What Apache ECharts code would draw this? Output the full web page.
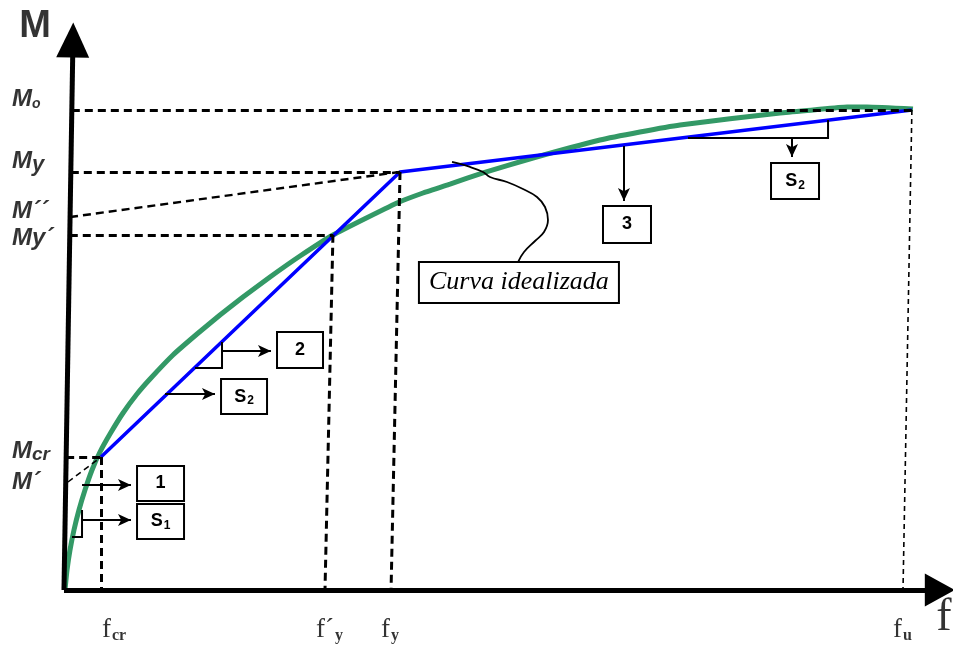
<!DOCTYPE html>
<html>
<head>
<meta charset="utf-8">
<script src="https://cdn.jsdelivr.net/npm/echarts@6/dist/echarts.min.js"></script>
<style>
  html, body { margin: 0; padding: 0; background: #fff; }
  #chart { width: 953px; height: 648px; }
</style>
</head>
<body>
<div id="chart"></div>
<script>
// curva momento-curvatura real (verde) e idealizada (azul), eixos em unidades relativas
const curvaReal = [
  [0, 0], [0.24, 4.17], [0.59, 8.33], [1.06, 12.5], [1.65, 16.67], [2.36, 20.83], [3.19, 25.0],
  [4.13, 28.75], [5.31, 32.5], [6.85, 36.88], [8.5, 40.83], [10.04, 43.96], [12.75, 48.96],
  [15.59, 53.33], [18.3, 57.29], [21.02, 61.04], [24.21, 65.21], [27.75, 69.58], [31.64, 73.96],
  [39.2, 80.63], [42.27, 82.71], [45.46, 84.58], [49.36, 86.88], [55.26, 90.0], [63.17, 93.75],
  [67.89, 95.42], [72.62, 96.88], [84.43, 99.38], [88.32, 100], [92.34, 100.63], [94.7, 100.63],
  [100.13, 100.21]
];
const curvaIdeal = [[4.25, 27.7], [39.56, 87.1], [100, 100]];

// pontos notaveis: (fcr,Mcr), (f'y,My'), (fy,My), (fu,Mo)
const pontosF = [4.25, 31.64, 39.56, 100];
const pontosM = [27.7, 74.0, 87.1, 100];
const basesF = [4.25, 30.7, 38.5, 98.95]; // onde a vertical tracejada toca o eixo f

const yTickLabels = ['{m|M}{s|o}', '{m|M}{y|y}', '{m|M´´}', '{m|My´}', '{m|M}{c|cr}', '{m|M´}'];
const yTickValues = [100, 87.1, 77.7, 74.0, 27.7, 22.5];
const xTickLabels = ['{f|f}{s|cr}', '{f|f´}{s|y}', '{f|f}{s|y}', '{f|f}{s|u}'];
const xTickValues = [4.25, 30.7, 38.5, 98.95];

const mLinha2 = 77.7;  // M''
const mLinha1 = 22.5;  // M'

// linha de chamada "Curva idealizada"
const chamada = [[45.7, 89.17], [47.82, 88.13], [49.36, 87.08], [50.18, 86.04], [52.19, 85.0],
  [54.08, 83.54], [55.73, 81.88], [56.68, 79.79], [57.03, 77.08], [56.56, 74.58], [55.5, 72.71],
  [54.2, 70.42], [53.49, 68.33]];

// caixas de anotacao
const caixas = [
  { t: '{b|1}', f: 11.28, m: 22.2, w: 45, h: 33 },
  { t: '{b|S}{sb|1}', f: 11.28, m: 14.27, w: 45, h: 33 },
  { t: '{b|2}', f: 27.75, m: 50.0, w: 44, h: 34 },
  { t: '{b|S}{sb|2}', f: 21.14, m: 40.3, w: 44, h: 33 },
  { t: '{b|3}', f: 66.36, m: 76.15, w: 46, h: 35 },
  { t: '{b|S}{sb|2}', f: 86.2, m: 85.2, w: 46, h: 34 },
  { t: '{it|Curva idealizada}', f: 53.6, m: 64.06, w: 198, h: 39 }
];
// setas (origem -> ponta)
const setas = [
  [[2.01, 21.88], [7.79, 21.88]],
  [[2.01, 14.58], [7.79, 14.58]],
  [[18.54, 49.79], [24.32, 49.79]],
  [[11.81, 40.83], [17.71, 40.83]],
  [[66.0, 92.5], [66.0, 81.04]],
  [[85.84, 94.17], [85.84, 90.21]]
];
// colchetes (triangulos de inclinacao)
const colchetes = [
  [[0.83, 11.04], [2.01, 11.04], [2.01, 16.67]],
  [[15.35, 46.25], [18.54, 46.25], [18.54, 51.67]],
  [[73.56, 94.17], [90.1, 94.17], [90.1, 97.92]]
];

const axisX = m => -0.12 + m * 1.06 / 114.58; // eixo M levemente inclinado

const horizontais = pontosF.map((f, i) => ({
  coords: [[axisX(pontosM[i]), pontosM[i]], [f, pontosM[i]]]
}));
const verticais = pontosF.map((f, i) => ({
  coords: [[f, pontosM[i]], [basesF[i], 0]],
  lineStyle: { width: i === 3 ? 1.6 : 3, type: i === 3 ? [5, 4] : [8, 5] }
}));

const chart = echarts.init(document.getElementById('chart'));
const serifTxt = { fontFamily: 'Liberation Serif', color: '#000' };
const sansBI = { fontFamily: 'Liberation Sans', fontWeight: 'bold', fontStyle: 'italic', color: '#000' };

const option = {
  animation: false,
  backgroundColor: '#fff',
  grid: { left: 65, right: 3, top: 14, bottom: 58 },
  xAxis: { type: 'value', min: 0, max: 104.5, show: false },
  yAxis: { type: 'value', min: 0, max: 120, show: false },
  series: [
    {
      type: 'line', data: curvaReal, symbol: 'none', smooth: 0.15, clip: false,
      lineStyle: { color: '#339966', width: 5 }, z: 2
    },
    {
      type: 'line', data: curvaIdeal, symbol: 'none', clip: false,
      lineStyle: { color: '#0000ff', width: 3.5 }, z: 3
    },
    {
      type: 'lines', coordinateSystem: 'cartesian2d', clip: false,
      data: horizontais.concat(verticais), symbol: 'none',
      lineStyle: { color: '#000', width: 3, type: [8, 5], opacity: 1 }, z: 4
    },
    {
      type: 'lines', coordinateSystem: 'cartesian2d', clip: false, symbol: 'none',
      data: [
        { coords: [[axisX(mLinha2), mLinha2], [pontosF[2], pontosM[2]]], lineStyle: { width: 2.4, type: [8, 5] } },
        { coords: [[0.35, mLinha1], [pontosF[0], pontosM[0]]] }
      ],
      lineStyle: { color: '#000', width: 1.5, type: [6, 4], opacity: 1 }, z: 4
    },
    {
      type: 'line', data: chamada, symbol: 'none', smooth: 0.4, clip: false,
      lineStyle: { color: '#000', width: 1.8 }, z: 4
    },
    // eixos com setas
    {
      type: 'lines', coordinateSystem: 'cartesian2d', clip: false,
      symbol: ['none', 'triangle'], symbolSize: [[1, 1], [33, 35]],
      data: [{ coords: [[-0.12, 0], [0.94, 114.58]] }],
      lineStyle: { color: '#000', width: 5, opacity: 1 }, z: 6
    },
    {
      type: 'lines', coordinateSystem: 'cartesian2d', clip: false,
      symbol: ['none', 'triangle'], symbolSize: [[1, 1], [33, 30]],
      data: [{ coords: [[-0.12, 0], [103.3, 0]] }],
      lineStyle: { color: '#000', width: 5, opacity: 1 }, z: 6
    },
    {
      type: 'lines', coordinateSystem: 'cartesian2d', clip: false,
      symbol: ['none', 'arrow'], symbolSize: [[1, 1], [9, 13]],
      data: setas.map(c => ({ coords: c })),
      lineStyle: { color: '#000', width: 2, opacity: 1 }, z: 6
    },
    {
      type: 'lines', coordinateSystem: 'cartesian2d', polyline: true, clip: false, symbol: 'none',
      data: colchetes.map(c => ({ coords: c })),
      lineStyle: { color: '#000', width: 2, opacity: 1 }, z: 6
    },
    // borda das caixas (retangulo preto por baixo)
    {
      type: 'scatter', clip: false, symbol: 'rect', z: 7, silent: true,
      data: caixas.map(b => ({ value: [b.f, b.m], symbolSize: [b.w + 4, b.h + 4] })),
      itemStyle: { color: '#000', opacity: 1 }
    },
    {
      type: 'scatter', clip: false, symbol: 'rect', z: 8,
      data: caixas.map(b => ({
        value: [b.f, b.m], symbolSize: [b.w, b.h],
        label: { formatter: b.t }
      })),
      itemStyle: { color: '#fff', opacity: 1 },
      label: {
        show: true, position: 'inside', color: '#000', textBorderWidth: 0,
        rich: {
          b: { fontFamily: 'Liberation Sans', fontWeight: 'bold', fontSize: 18, color: '#000', textBorderWidth: 0 },
          sb: { fontFamily: 'Liberation Sans', fontWeight: 'bold', fontSize: 12, color: '#000', textBorderWidth: 0, verticalAlign: 'bottom', padding: [9, 0, 0, 1] },
          it: Object.assign({ fontStyle: 'italic', fontSize: 26, textBorderWidth: 0 }, serifTxt)
        }
      }
    },
    // rotulos do eixo M
    {
      type: 'scatter', clip: false, symbolSize: 0, z: 9,
      data: yTickValues.map((v, i) => ({
        value: [-6.26, v],
        label: { formatter: yTickLabels[i], offset: [0, [-11, -11, -6, 4, -6, 0][i]] }
      })),
      label: {
        show: true, position: 'right', distance: 0,
        rich: {
          m: Object.assign({ fontSize: 24 }, sansBI),
          s: Object.assign({ fontSize: 14, verticalAlign: 'bottom', padding: [6, 0, 0, 0] }, sansBI),
          y: Object.assign({ fontSize: 22, verticalAlign: 'bottom', padding: [8, 0, 0, 0] }, sansBI),
          c: Object.assign({ fontSize: 19, verticalAlign: 'bottom', padding: [8, 0, 0, 0] }, sansBI)
        }
      }
    },
    // rotulos do eixo f
    {
      type: 'scatter', clip: false, symbolSize: 0, z: 9,
      data: xTickValues.map((v, i) => ({
        value: [v, 0],
        label: { formatter: xTickLabels[i], offset: [[1, -9, -10, -10][i], 40] }
      })),
      label: {
        show: true, position: 'right', distance: 0,
        rich: {
          f: Object.assign({ fontSize: 27 }, serifTxt),
          s: Object.assign({ fontSize: 16, fontWeight: 'bold', verticalAlign: 'bottom', padding: [10, 0, 0, 1] }, serifTxt)
        }
      }
    },
    // nomes dos eixos
    {
      type: 'scatter', clip: false, symbolSize: 0, z: 9,
      data: [
        { value: [-3.54, 117.3], label: { formatter: 'M', fontFamily: 'Liberation Sans', fontWeight: 'bold', fontSize: 38 } },
        { value: [103.79, -5.9], label: { formatter: 'f', fontFamily: 'Liberation Serif', fontSize: 46 } }
      ],
      label: { show: true, position: 'right', distance: 0, align: 'center', color: '#000', textBorderWidth: 0 }
    }
  ]
};

chart.setOption(option);
window.addEventListener('resize', function () {
  chart.resize();
});
</script>
</body>
</html>
